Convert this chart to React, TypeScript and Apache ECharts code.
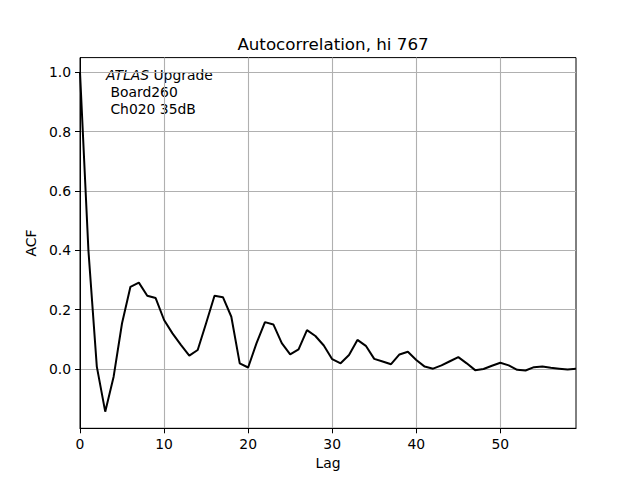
import React, { useEffect, useRef } from "react";
import * as echarts from "echarts";

const lags: number[] = Array.from({ length: 60 }, (_, i) => i);
const acfValues: number[] = [
  1.0, 0.4, 0.008, -0.144, -0.026, 0.154, 0.277, 0.291, 0.247, 0.239,
  0.165, 0.12, 0.081, 0.045, 0.064, 0.154, 0.247, 0.242, 0.176, 0.019,
  0.005, 0.087, 0.158, 0.15, 0.087, 0.049, 0.066, 0.131, 0.111, 0.079,
  0.033, 0.019, 0.047, 0.098, 0.078, 0.034, 0.025, 0.016, 0.049, 0.058,
  0.03, 0.008, 0.001, 0.012, 0.026, 0.04, 0.019, -0.004, 0.0, 0.011,
  0.021, 0.012, -0.003, -0.005, 0.006, 0.008, 0.004, 0.001, -0.002, 0.001,
];
const titleText = "Autocorrelation, hi 767";
const xName = "Lag";
const yName = "ACF";

const FONT = "DejaVu Sans";

export default function App() {
  const ref = useRef<HTMLDivElement>(null);
  useEffect(() => {
    if (!ref.current) return;
    const chart = echarts.init(ref.current, undefined, { renderer: "svg" });
    chart.setOption({
      animation: false,
      backgroundColor: "#ffffff",
      title: {
        text: titleText,
        left: 328,
        top: 30,
        textAlign: "center",
        textStyle: { fontFamily: FONT, fontSize: 16.7, fontWeight: "normal", color: "#000" },
      },
      grid: {
        left: 80,
        right: 64,
        top: 57.6,
        bottom: 51.7,
        show: true,
        borderColor: "#000",
        borderWidth: 1,
        backgroundColor: "transparent",
      },
      xAxis: {
        type: "value",
        min: 0,
        max: 59,
        interval: 10,
        name: xName,
        nameLocation: "middle",
        nameGap: 27,
        nameTextStyle: { fontFamily: FONT, fontSize: 13.9, color: "#000" },
        axisLine: { show: true, onZero: false, lineStyle: { color: "#000", width: 1 } },
        axisTick: { show: true, inside: false, length: 5, lineStyle: { color: "#000", width: 1 } },
        axisLabel: {
          showMaxLabel: false,
          margin: 9,
          fontFamily: FONT,
          fontSize: 13.9,
          color: "#000",
        },
        splitLine: {
          show: true,
          showMinLine: false,
          showMaxLine: false,
          lineStyle: { color: "#b0b0b0", width: 1.1 },
        },
      },
      yAxis: {
        type: "value",
        min: -0.2,
        max: 1.0495,
        interval: 0.2,
        name: yName,
        nameLocation: "middle",
        nameGap: 35,
        nameTextStyle: { fontFamily: FONT, fontSize: 13.9, color: "#000" },
        axisLine: { show: true, onZero: false, lineStyle: { color: "#000", width: 1 } },
        axisTick: { show: true, inside: false, length: 5, lineStyle: { color: "#000", width: 1 } },
        axisLabel: {
          showMinLabel: false,
          showMaxLabel: false,
          margin: 9,
          fontFamily: FONT,
          fontSize: 13.9,
          color: "#000",
          formatter: (v: number) => (v < -0.1 || v > 1.01 ? "" : v.toFixed(1)),
        },
        splitLine: {
          show: true,
          showMinLine: false,
          showMaxLine: false,
          lineStyle: { color: "#b0b0b0", width: 1.1 },
        },
      },
      series: [
        {
          type: "line",
          data: lags.map((l, i) => [l, acfValues[i]]),
          showSymbol: false,
          lineStyle: { color: "#000", width: 2 },
          clip: true,
        },
      ],
      graphic: [
        {
          type: "text",
          left: 106,
          top: 66,
          style: {
            text: "{i|ATLAS} Upgrade\n Board260\n Ch020 35dB",
            fontFamily: FONT,
            fontSize: 13.9,
            lineHeight: 17,
            fill: "#000",
            rich: {
              i: { fontStyle: "italic", fontFamily: FONT, fontSize: 13.9, lineHeight: 17 },
            },
          },
        },
      ],
    });
    return () => chart.dispose();
  }, []);
  return (
    <div
      ref={ref}
      style={{ position: "fixed", left: 0, top: 0, width: 640, height: 480 }}
    />
  );
}
